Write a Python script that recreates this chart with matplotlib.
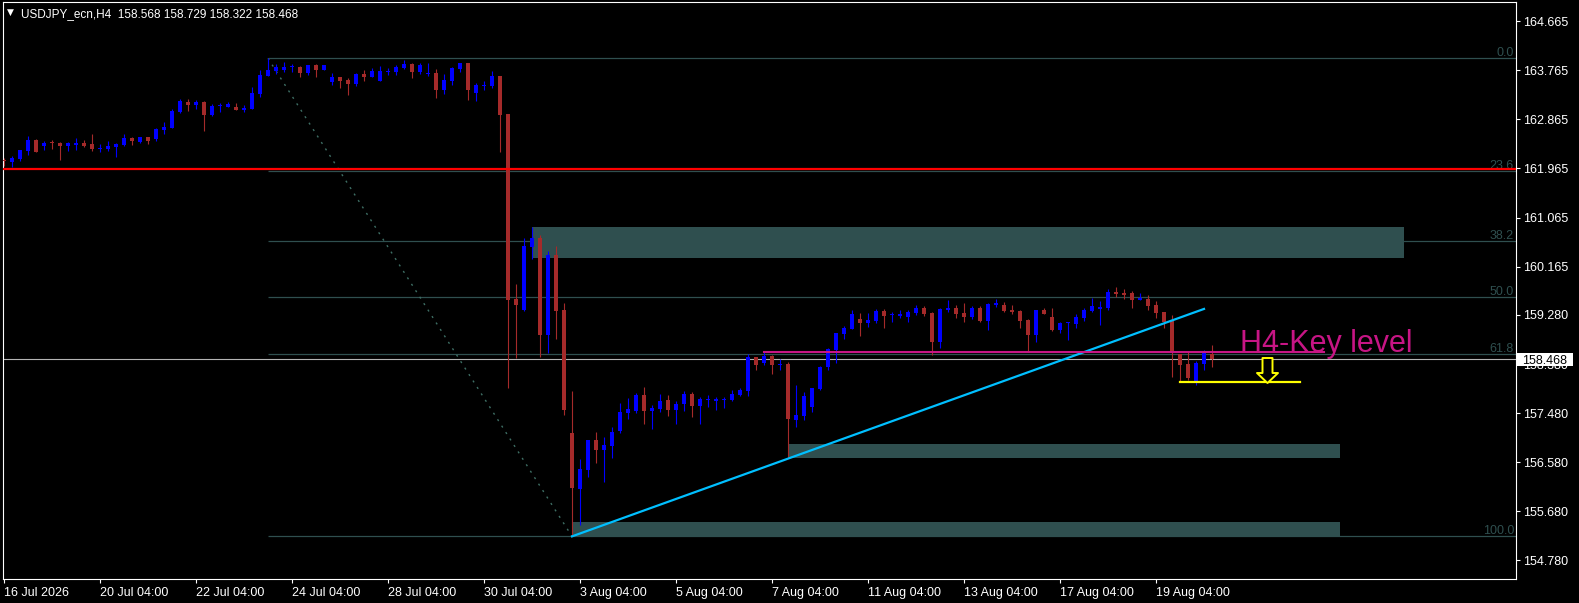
import numpy as np
import matplotlib
matplotlib.use("Agg")
import matplotlib.pyplot as plt
from matplotlib.patches import Rectangle
from matplotlib.path import Path

plt.rcParams['font.family'] = ['Liberation Sans', 'DejaVu Sans']

# USDJPY_ecn H4 candles (open, high, low, close), oldest first
opens = [162.107, 162.083, 162.138, 162.285, 162.488, 162.383, 162.438, 162.438, 162.383, 162.396,
         162.438, 162.414, 162.322, 162.317, 162.359, 162.396, 162.525, 162.457, 162.544, 162.499,
         162.670, 162.712, 163.007, 163.185, 163.130, 163.185, 162.952, 163.112, 163.093, 163.093,
         163.044, 163.054, 163.335, 163.667, 163.753, 163.777, 163.821, 163.821, 163.716, 163.858,
         163.777, 163.556, 163.637, 163.587, 163.519, 163.698, 163.648, 163.575, 163.740, 163.735,
         163.808, 163.882, 163.740, 163.703, 163.711, 163.403, 163.575, 163.795, 163.900, 163.343,
         163.482, 163.477, 163.661, 162.963, 159.578, 159.371, 160.525, 160.696, 158.912, 160.379,
         159.371, 157.110, 156.088, 156.437, 156.988, 156.804, 156.883, 157.152, 157.477, 157.519,
         157.812, 157.519, 157.556, 157.721, 157.538, 157.653, 157.830, 157.610, 157.727, 157.708,
         157.727, 157.721, 157.812, 157.891, 158.509, 158.399, 158.527, 158.362, 158.380, 157.359,
         157.433, 157.592, 157.922, 158.325, 158.643, 158.936, 159.016, 159.205, 159.131, 159.168,
         159.352, 159.279, 159.260, 159.242, 159.315, 159.407, 159.315, 158.789, 159.371, 159.407,
         159.315, 159.242, 159.407, 159.168, 159.463, 159.463, 159.371, 159.352, 159.187, 158.912,
         159.371, 159.242, 159.003, 159.131, 159.113, 159.223, 159.352, 159.389, 159.407, 159.701,
         159.682, 159.682, 159.554, 159.573, 159.463, 159.334, 159.187, 158.569, 158.380, 158.069,
         158.380, 158.568]
highs = [162.162, 162.193, 162.304, 162.562, 162.501, 162.470, 162.488, 162.457, 162.457, 162.525,
         162.488, 162.598, 162.409, 162.470, 162.438, 162.598, 162.550, 162.544, 162.544, 162.707,
         162.817, 163.057, 163.241, 163.241, 163.217, 163.198, 163.149, 163.172, 163.180, 163.167,
         163.125, 163.453, 163.771, 163.985, 163.882, 163.924, 163.882, 163.851, 163.858, 163.882,
         163.869, 163.711, 163.637, 163.630, 163.711, 163.771, 163.808, 163.840, 163.814, 163.858,
         163.956, 163.906, 163.895, 163.895, 163.784, 163.698, 163.821, 163.906, 163.900, 163.525,
         163.563, 163.747, 163.661, 162.963, 159.847, 160.696, 160.898, 160.745, 160.453, 160.544,
         159.504, 157.886, 156.639, 156.988, 157.134, 157.048, 157.231, 157.671, 157.763, 157.843,
         157.959, 157.629, 157.830, 157.812, 157.702, 157.886, 157.867, 157.776, 157.812, 157.776,
         157.776, 157.910, 157.941, 158.564, 158.509, 158.601, 158.546, 158.472, 158.423, 157.996,
         157.867, 157.946, 158.344, 158.679, 158.949, 159.078, 159.371, 159.315, 159.315, 159.389,
         159.389, 159.334, 159.371, 159.371, 159.463, 159.444, 159.334, 159.407, 159.554, 159.463,
         159.499, 159.444, 159.444, 159.499, 159.573, 159.518, 159.463, 159.371, 159.205, 159.371,
         159.407, 159.407, 159.150, 159.150, 159.297, 159.407, 159.591, 159.536, 159.756, 159.793,
         159.756, 159.719, 159.682, 159.646, 159.536, 159.334, 159.279, 158.569, 158.619, 158.436,
         158.637, 158.729]
lows = [162.015, 161.985, 162.107, 162.206, 162.267, 162.304, 162.328, 162.120, 162.291, 162.304,
        162.354, 162.291, 162.267, 162.285, 162.181, 162.383, 162.401, 162.433, 162.414, 162.462,
        162.591, 162.712, 162.977, 163.025, 163.062, 162.657, 162.933, 163.007, 163.093, 163.038,
        163.001, 163.054, 163.280, 163.667, 163.698, 163.735, 163.729, 163.648, 163.674, 163.637,
        163.777, 163.495, 163.446, 163.317, 163.482, 163.575, 163.637, 163.575, 163.674, 163.674,
        163.795, 163.630, 163.698, 163.667, 163.262, 163.330, 163.501, 163.729, 163.219, 163.206,
        163.403, 163.440, 162.272, 157.935, 158.497, 159.358, 160.305, 158.514, 158.576, 158.844,
        157.446, 155.220, 155.429, 156.314, 156.571, 156.223, 156.663, 157.121, 157.372, 157.488,
        157.287, 157.194, 157.506, 157.427, 157.287, 157.519, 157.409, 157.287, 157.592, 157.542,
        157.573, 157.708, 157.794, 157.794, 158.271, 158.362, 158.203, 158.271, 156.676, 157.231,
        157.359, 157.506, 157.904, 158.271, 158.404, 158.839, 159.016, 158.894, 159.064, 159.131,
        159.040, 159.150, 159.223, 159.150, 159.279, 159.260, 158.551, 158.674, 159.334, 159.223,
        159.155, 159.205, 159.150, 159.003, 159.426, 159.334, 159.297, 159.040, 158.600, 158.783,
        159.297, 158.985, 158.949, 158.820, 159.040, 159.168, 159.334, 159.095, 159.371, 159.609,
        159.573, 159.407, 159.554, 159.371, 159.223, 159.040, 158.142, 158.051, 158.087, 157.995,
        158.271, 158.322]
closes = [162.096, 162.157, 162.304, 162.488, 162.267, 162.438, 162.427, 162.383, 162.427, 162.438,
          162.378, 162.328, 162.341, 162.378, 162.420, 162.525, 162.475, 162.544, 162.475, 162.688,
          162.725, 163.020, 163.204, 163.136, 163.185, 162.946, 163.117, 163.130, 163.149, 163.038,
          163.081, 163.343, 163.679, 163.771, 163.832, 163.821, 163.845, 163.722, 163.858, 163.771,
          163.858, 163.637, 163.575, 163.519, 163.698, 163.648, 163.747, 163.747, 163.753, 163.821,
          163.882, 163.740, 163.858, 163.722, 163.403, 163.587, 163.808, 163.895, 163.403, 163.495,
          163.501, 163.661, 162.946, 159.554, 159.463, 160.544, 160.696, 158.912, 160.379, 159.352,
          157.537, 156.112, 156.450, 156.988, 156.804, 156.896, 157.134, 157.501, 157.556, 157.812,
          157.525, 157.580, 157.702, 157.538, 157.647, 157.830, 157.610, 157.739, 157.745, 157.745,
          157.745, 157.836, 157.910, 158.509, 158.367, 158.527, 158.367, 158.380, 157.378, 157.446,
          157.794, 157.946, 158.325, 158.650, 158.949, 159.047, 159.297, 159.137, 159.187, 159.352,
          159.260, 159.291, 159.302, 159.334, 159.407, 159.297, 158.789, 159.389, 159.407, 159.302,
          159.242, 159.407, 159.168, 159.481, 159.499, 159.352, 159.334, 159.168, 158.912, 159.371,
          159.297, 159.003, 159.131, 159.150, 159.242, 159.371, 159.444, 159.426, 159.701, 159.664,
          159.646, 159.554, 159.591, 159.444, 159.315, 159.150, 158.600, 158.362, 158.124, 158.399,
          158.582, 158.468]

date_labels = ['16 Jul 2026', '20 Jul 04:00', '22 Jul 04:00', '24 Jul 04:00', '28 Jul 04:00',
               '30 Jul 04:00', '3 Aug 04:00', '5 Aug 04:00', '7 Aug 04:00', '11 Aug 04:00',
               '13 Aug 04:00', '17 Aug 04:00', '19 Aug 04:00']
price_ticks = [164.665, 163.765, 162.865, 161.965, 161.065, 160.165, 159.280,
               158.380, 157.480, 156.580, 155.680, 154.780]

# Fibonacci retracement anchors (bar index, price)
fib_high_bar, fib_high = 33, 163.985
fib_low_bar, fib_low = 71, 155.220
fib_ratios = [0.0, 23.6, 38.2, 50.0, 61.8, 100.0]

# supply / demand zones: start bar, end bar, low, high
zone_start = [66, 98, 71]
zone_end = [175, 167, 167]
zone_low = [160.327, 156.663, 155.214]
zone_high = [160.892, 156.914, 155.484]

red_level = 161.961
trend_bars, trend_prices = [71, 150], [155.22, 159.39]
key_bars, key_level = [95, 165], 158.595
target_bars, target_level = [147, 162], 158.056
arrow_bar, arrow_price = 157.84, 158.267

o = np.array(opens)
h = np.array(highs)
l = np.array(lows)
c = np.array(closes)
x = np.arange(len(o))

fig = plt.figure(figsize=(15.79, 6.03), dpi=100, facecolor='black')
ax = fig.add_axes([0.00171, 0.0393, 0.9582, 0.95738])
ax.set_facecolor('black')

# zones behind everything else
for x0, x1, y0, y1 in zip(zone_start, zone_end, zone_low, zone_high):
    ax.add_patch(Rectangle((x0, y0), x1 - x0, y1 - y0, facecolor='#2F4F4F',
                           edgecolor='none', zorder=1.2))

# fibo levels
fib_col = '#2F4F4F'
rng = fib_high - fib_low
for r in fib_ratios:
    lvl = fib_high - r / 100 * rng
    ax.hlines(lvl, fib_high_bar, 300, colors=fib_col, lw=0.9, zorder=1)
    ax.annotate('%.1f' % r, xy=(188.75, lvl), xytext=(0, 1.6), textcoords='offset points',
                ha='right', va='baseline', fontsize=9, color=fib_col, zorder=1)
ax.plot([fib_high_bar, fib_low_bar], [fib_high, fib_low], color='#3E6E64', lw=1.0,
        ls=(0, (1.5, 4.0)), zorder=1)

# bid line
ax.axhline(closes[-1], color='#B4B4B4', lw=0.8, zorder=2)

# candles
up = c >= o
cols = np.where(up, '#0000FF', '#A52A2A')
ax.vlines(x, l, h, colors=cols, lw=0.8, zorder=3)
body_lo = np.minimum(o, c)
body_h = np.maximum(np.abs(c - o), 0.02)
ax.bar(x, body_h, width=0.62, bottom=body_lo, color=cols, lw=0, zorder=3.1)

ax.axhline(red_level, color='#FF0000', lw=1.6, zorder=3.5)
ax.plot(trend_bars, trend_prices, color='#00BFFF', lw=1.6, zorder=4)
ax.plot(key_bars, [key_level, key_level], color='#C71585', lw=1.5, zorder=4)
ax.plot(target_bars, [target_level, target_level], color='#FFFF00', lw=1.6, zorder=4)
ax.text(154.5, key_level, 'H4-Key level', fontsize=22, color='#C71585',
        ha='left', va='baseline', zorder=5)

arrow = Path([(-5, 12.5), (5, 12.5), (5, -2.5), (10.5, -2.5), (0, -12.5),
              (-10.5, -2.5), (-5, -2.5), (-5, 12.5)],
             [Path.MOVETO] + [Path.LINETO] * 6 + [Path.CLOSEPOLY])
ax.plot([arrow_bar], [arrow_price], marker=arrow, markersize=18, mfc='black',
        mec='#FFFF00', mew=1.4, ls='none', zorder=5)

# axes and ticks
ax.set_xlim(-0.1625, 188.96)
ax.set_ylim(154.433, 165.017)
for s in ax.spines.values():
    s.set_color('white')
    s.set_linewidth(0.8)
ax.yaxis.tick_right()
ax.set_yticks(price_ticks)
ax.set_yticklabels(['%.3f' % p for p in price_ticks])
ax.set_xticks(np.arange(0, 12 * len(date_labels), 12))
ax.set_xticklabels(date_labels, ha='left')
ax.tick_params(axis='y', colors='white', length=3, width=0.8, pad=2, labelsize=9)
ax.tick_params(axis='x', colors='white', length=3, width=0.8, pad=2.5, labelsize=9)

# current price box on the scale
trans = ax.get_yaxis_transform()
ax.add_patch(Rectangle((1.0008, closes[-1] - 0.116), 0.037, 0.232, transform=trans,
                       facecolor='white', edgecolor='none', clip_on=False, zorder=9))
ax.text(1.004, closes[-1], '%.3f' % closes[-1], transform=trans, fontsize=9, color='black',
        ha='left', va='center_baseline', clip_on=False, zorder=10)

# header
fig.text(10.8 / 1579, 1 - 12.7 / 603, '\u25BC', ha='center', va='center', fontsize=6.5,
         color='white', family='DejaVu Sans')
fig.text(21 / 1579, 1 - 17 / 603,
         'USDJPY_ecn,H4  ' + ' '.join('%.3f' % v for v in (opens[-1], highs[-1], lows[-1], closes[-1])),
         ha='left', va='baseline', fontsize=8.5, color='white')

fig.savefig('out.png', dpi=100, facecolor='black')
